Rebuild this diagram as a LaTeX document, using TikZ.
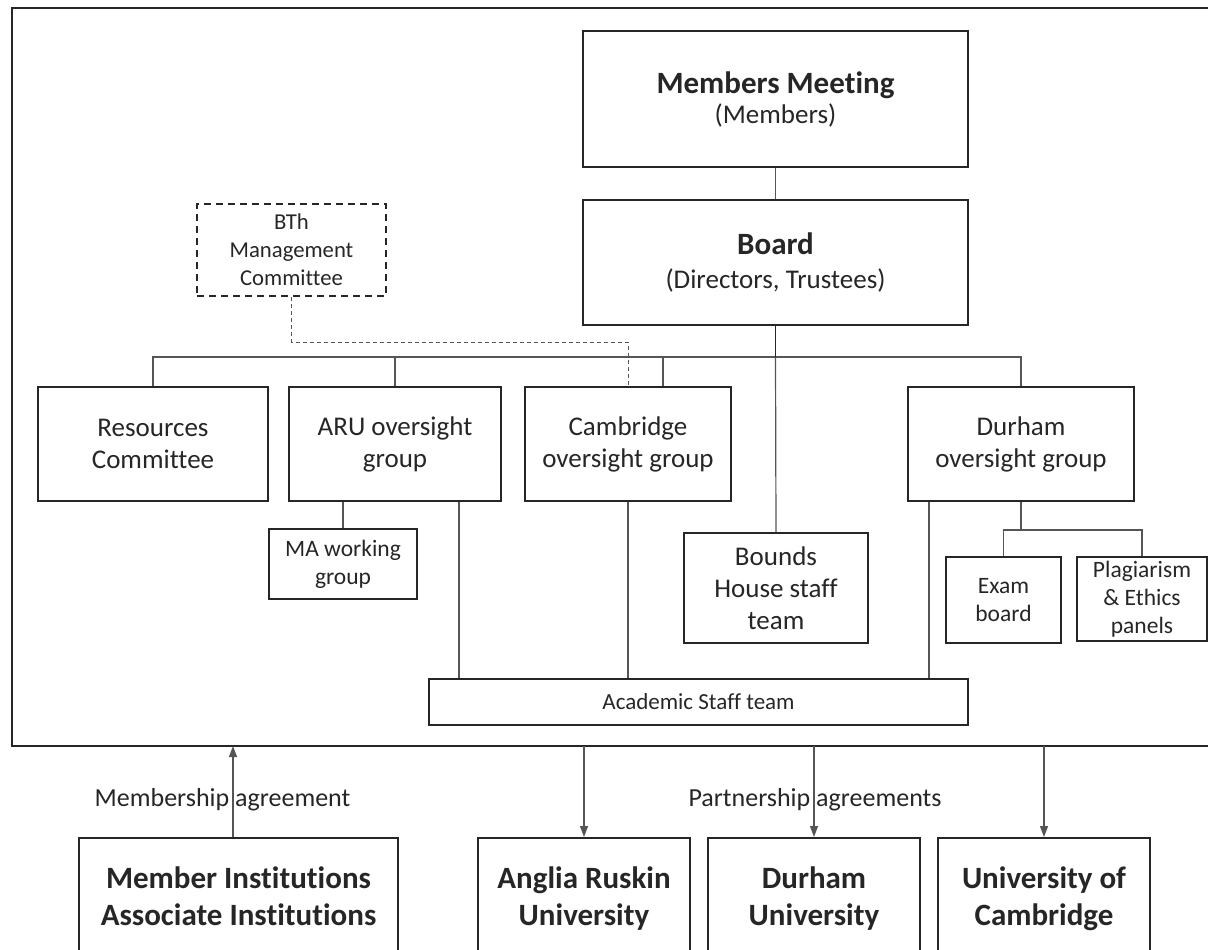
\documentclass[tikz,border=0pt]{standalone}
\usepackage{fontspec}
\setmainfont{Carlito}[Ligatures={NoCommon,NoRare,NoContextual}]
\usetikzlibrary{arrows.meta}
\definecolor{ink}{HTML}{262626}
\definecolor{lgray}{HTML}{555555}
\begin{document}
\begin{tikzpicture}[x=1pt,y=-1pt,
  box/.style={draw=ink,line width=2pt,inner sep=0pt,align=center,text=ink},
  lvl/.style={box,font=\fontsize{27}{32}\selectfont},
  small/.style={box,font=\fontsize{23.5}{28}\selectfont},
  uni/.style={box,font=\fontsize{31}{37}\selectfont\bfseries,minimum height=117pt,text depth=0pt},
  conn/.style={draw=lgray,line width=1.2pt},
  mainconn/.style={draw=ink,line width=1.6pt},
  dconn/.style={draw=lgray,line width=1pt,dash pattern=on 4pt off 3pt},
  arr/.style={conn,-{Triangle[length=11pt,width=8pt]}},
  lab/.style={text=ink,font=\fontsize{26}{30}\selectfont,inner sep=0pt}]
\useasboundingbox (0,0) rectangle (1208,950);
\clip (0,0) rectangle (1208,950);
% outer frame
\coordinate (fTR) at (1215,8);
\coordinate (fTL) at (12,8);
\coordinate (fBL) at (12,746);
\coordinate (fBR) at (1215,746);
\coordinate (fb) at (0,746);
\draw[draw=ink,line width=2.2pt] (fTR) -- (fTL) -- (fBL) -- (fBR);
% top boxes
\node[box,minimum width=385pt,minimum height=136pt] (mm) at (775.5,99)
  {{\fontsize{31}{34}\selectfont\bfseries Members Meeting}\\[4pt]{\fontsize{27}{32}\selectfont (Members)}};
\node[box,minimum width=385pt,minimum height=125pt] (board) at (775.5,262.5)
  {{\fontsize{31}{34}\selectfont\bfseries Board}\\[13pt]{\fontsize{27}{32}\selectfont (Directors, Trustees)}};
\node[box,dash pattern=on 7pt off 5pt,minimum width=189pt,minimum height=92pt,font=\fontsize{22.7}{28}\selectfont] (bth) at (291.5,250)
  {BTh\\Management\\Committee};
% second level
\node[lvl,minimum width=230pt,minimum height=114pt] (res) at (153,444) {Resources\\Committee};
\node[lvl,minimum width=212pt,minimum height=114pt] (aru) at (395,444) {ARU oversight\\group};
\node[lvl,minimum width=206pt,minimum height=114pt] (camog) at (628,444) {Cambridge\\oversight group};
\node[lvl,minimum width=226pt,minimum height=114pt] (durog) at (1021,444) {Durham\\oversight group};
\node[lvl,minimum width=184pt,minimum height=110pt] (bounds) at (776,588) {Bounds\\House staff\\team};
% third level
\node[small,minimum width=148pt,minimum height=70pt] (ma) at (343,564) {MA working\\group};
\node[small,minimum width=115pt,minimum height=86pt] (exam) at (1003.5,600) {Exam\\board};
\node[small,minimum width=130pt,minimum height=84pt] (plag) at (1142,599) {Plagiarism\\\& Ethics\\panels};
\node[box,minimum width=539pt,minimum height=46pt,font=\fontsize{23}{28}\selectfont] (acad) at (698.5,702) {Academic Staff team};
% bottom institutions
\node[uni,minimum width=319pt] (mi) at (238.5,896.5) {Member Institutions\\Associate Institutions};
\node[uni,minimum width=212pt] (arb) at (584,896.5) {Anglia Ruskin\\University};
\node[uni,minimum width=212pt] (du) at (814,896.5) {Durham\\University};
\node[uni,minimum width=212pt] (uc) at (1044,896.5) {University of\\Cambridge};
% connectors
\coordinate (busy) at (0,357);
\coordinate (dashy) at (0,342);
\coordinate (suby) at (0,530);
\draw[conn] (mm.south) -- (board.north);
\draw[conn] (res.north) |- (durog.north |- busy) -- (durog.north);
\draw[conn] (aru.north) -- (aru.north |- busy);
\draw[conn] ([xshift=35pt]camog.north) -- ([xshift=35pt]camog.north |- busy);
\draw[mainconn] (board.south) -- (board.south |- busy);
\draw[conn] (board.south |- busy) -- (bounds.north);
\draw[dconn] (bth.south) |- (camog.north |- dashy) -- (camog.north);
\draw[conn] (ma.north) -- (ma.north |- aru.south);
\draw[conn] ([xshift=64pt]aru.south) -- ([xshift=64pt]aru.south |- acad.north);
\draw[conn] (camog.south) -- (camog.south |- acad.north);
\draw[conn] ([xshift=-92pt]durog.south) -- ([xshift=-92pt]durog.south |- acad.north);
\draw[conn] (durog.south) -- (durog.south |- suby);
\draw[conn] (exam.north) |- (plag.north |- suby) -- (plag.north);
% agreements
\draw[arr] ([xshift=-5.5pt]mi.north) -- ([xshift=-5.5pt]mi.north |- fb);
\draw[arr] (arb.north |- fb) -- (arb.north);
\draw[arr] (du.north |- fb) -- (du.north);
\draw[arr] (uc.north |- fb) -- (uc.north);
\node[lab] (memlab) at (222.5,800) {Membership agreement};
\node[lab] (parlab) at (815,800) {Partnership agreements};
\end{tikzpicture}
\end{document}
